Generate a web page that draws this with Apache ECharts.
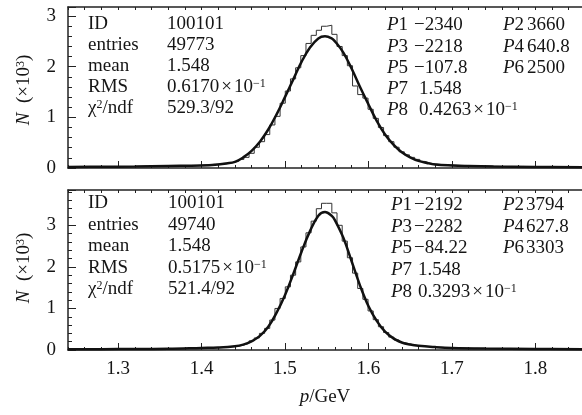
<!DOCTYPE html>
<html><head><meta charset="utf-8">
<script src="https://cdn.jsdelivr.net/npm/echarts@6/dist/echarts.min.js"></script>
<style>html,body{margin:0;padding:0;background:#fff}#c{width:582px;height:415px}</style>
</head><body><div id="c"></div>
<script>
// ---------- data ----------
const binStart = 1.24;
const binWidth = 0.0062;
const xMin = 1.24, xMax = 1.856;
const xTickValues = [1.3, 1.4, 1.5, 1.6, 1.7, 1.8];
const yMaxTop = 3.18, yMaxBot = 3.85;

// top panel histogram (N in units of 10^3), 100 bins
const histTop = [
 0.02,0.02,0.02,0.025,0.02,0.025,0.025,0.02,0.03,0.025,
 0.03,0.025,0.03,0.03,0.035,0.03,0.035,0.04,0.035,0.04,
 0.04,0.045,0.04,0.05,0.05,0.055,0.06,0.07,0.075,0.09,
 0.10,0.11,0.13,0.17,0.21,0.29,0.41,0.52,0.66,0.85,
 1.02,1.28,1.52,1.76,1.98,2.22,2.46,2.62,2.72,2.80,
 2.82,2.64,2.40,2.22,2.02,1.62,1.45,1.38,1.16,0.98,
 0.80,0.64,0.52,0.41,0.32,0.26,0.21,0.17,0.13,0.10,
 0.08,0.07,0.065,0.06,0.055,0.05,0.05,0.045,0.04,0.04,
 0.04,0.035,0.035,0.03,0.03,0.03,0.025,0.03,0.025,0.025,
 0.025,0.02,0.025,0.02,0.02,0.02,0.02,0.015,0.02,0.015
];
// top panel fit curve
const fitTopX = [1.24,1.28,1.32,1.36,1.40,1.42,1.43,1.44,1.45,1.46,1.47,1.48,1.49,1.50,1.51,1.52,1.53,1.54,1.548,1.556,1.56,1.57,1.58,1.59,1.60,1.61,1.62,1.63,1.64,1.65,1.66,1.67,1.68,1.70,1.72,1.75,1.80,1.856];
const fitTopY = [0.02,0.025,0.03,0.04,0.05,0.07,0.09,0.12,0.21,0.34,0.52,0.76,1.06,1.40,1.75,2.10,2.38,2.56,2.60,2.56,2.50,2.28,1.96,1.60,1.26,0.93,0.66,0.46,0.31,0.21,0.14,0.10,0.07,0.05,0.04,0.03,0.02,0.015];

// bottom panel histogram
const histBot = [
 0.015,0.02,0.015,0.02,0.02,0.02,0.015,0.02,0.02,0.02,
 0.02,0.025,0.02,0.025,0.025,0.025,0.03,0.025,0.03,0.03,
 0.035,0.03,0.035,0.04,0.04,0.045,0.05,0.05,0.055,0.06,
 0.07,0.08,0.09,0.12,0.16,0.22,0.29,0.40,0.52,0.72,
 1.00,1.24,1.52,1.80,2.12,2.48,2.82,3.10,3.40,3.53,
 3.53,3.30,3.00,2.62,2.22,1.85,1.48,1.22,0.94,0.73,
 0.56,0.42,0.31,0.24,0.18,0.15,0.12,0.10,0.09,0.08,
 0.07,0.065,0.06,0.055,0.05,0.05,0.045,0.04,0.04,0.035,
 0.035,0.03,0.03,0.03,0.025,0.03,0.025,0.025,0.025,0.02,
 0.02,0.025,0.02,0.02,0.02,0.015,0.02,0.02,0.015,0.015
];
const fitBotX = [1.24,1.28,1.32,1.36,1.40,1.42,1.44,1.45,1.46,1.47,1.48,1.49,1.50,1.51,1.52,1.53,1.54,1.548,1.556,1.56,1.57,1.58,1.59,1.60,1.61,1.62,1.63,1.64,1.65,1.66,1.68,1.70,1.74,1.80,1.856];
const fitBotY = [0.02,0.02,0.025,0.03,0.05,0.06,0.09,0.13,0.21,0.34,0.56,0.90,1.32,1.83,2.37,2.86,3.23,3.32,3.23,3.12,2.70,2.13,1.55,1.06,0.70,0.44,0.28,0.18,0.13,0.10,0.07,0.05,0.035,0.025,0.02];

// stats boxes text
const statsLabels = ['ID', 'entries', 'mean', 'RMS', 'chi'];
const statsTop = ['100101', '49773', '1.548', ['0.6170', '−1'], '529.3/92'];
const statsBot = ['100101', '49740', '1.548', ['0.5175', '−1'], '521.4/92'];
const parsTop = [['−2340', '3660'], ['−2218', '640.8'], ['−107.8', '2500'], ['1.548'], [['0.4263', '−1']]];
const parsBot = [['−2192', '3794'], ['−2282', '627.8'], ['−84.22', '3303'], ['1.548'], [['0.3293', '−1']]];

// ---------- chart ----------
const F = '"Liberation Serif","Times New Roman",serif';
const FS = 19;
const INK = '#151515';
function rs(size, italic, extra) {
  return Object.assign({fontSize: size, fontFamily: F, fontStyle: italic ? 'italic' : 'normal', fill: INK, color: INK}, extra || {});
}
const rich = {
  n: rs(FS), i: rs(FS, true),
  s: rs(12, false, {verticalAlign: 'top'}),
  x: rs(FS, false, {padding: [0, 2, 0, 2]})
};
function txt(x, y, text, extra) {
  return Object.assign({
    type: 'text', x: x, y: y, silent: true,
    style: {text: text, rich: rich, fontSize: FS, fontFamily: F, fill: INK, align: 'left', verticalAlign: 'middle'}
  }, extra || {});
}
function sci(v) { return '{n|' + v[0] + '}{x|×}{n|10}{s|' + v[1] + '}'; }
function val(v) { return Array.isArray(v) ? sci(v) : '{n|' + v + '}'; }
function labelText(l) { return l === 'chi' ? '{n|χ}{s|2}{n|/ndf}' : '{n|' + l + '}'; }

const graphics = [];
function statsBox(vals, lx, vx, ys) {
  statsLabels.forEach((l, k) => {
    graphics.push(txt(lx, ys[k], labelText(l)));
    graphics.push(txt(vx, ys[k], val(vals[k])));
  });
}
function parsBox(pars, px, vx, vx2, p2x, v2x, ys) {
  let n = 1;
  pars.forEach((row, k) => {
    if (row.length === 2) {
      graphics.push(txt(px, ys[k], '{i|P}{n|' + n + '}'));
      graphics.push(txt(vx, ys[k], val(row[0])));
      graphics.push(txt(p2x, ys[k], '{i|P}{n|' + (n + 1) + '}'));
      graphics.push(txt(v2x, ys[k], val(row[1])));
      n += 2;
    } else {
      graphics.push(txt(px, ys[k], '{i|P}{n|' + n + '}'));
      graphics.push(txt(vx2, ys[k], val(row[0])));
      n += 1;
    }
  });
}
statsBox(statsTop, 88, 167, [24, 45, 66, 87, 108]);
statsBox(statsBot, 88, 168, [203, 225, 246, 268, 289]);
parsBox(parsTop, 387, 414, 419, 503, 527, [25, 47, 68, 89, 110]);
parsBox(parsBot, 391, 414, 418, 503, 526, [205, 227, 248, 270, 292]);
// axis titles
const yTitle = '{i|N}{n|  (×10}{s|3}{n|)}';
graphics.push(txt(24, 90, yTitle, {rotation: Math.PI / 2, style: {text: yTitle, rich: rich, fontSize: FS, fontFamily: F, fill: INK, align: 'center', verticalAlign: 'middle'}}));
graphics.push(txt(24, 268, yTitle, {rotation: Math.PI / 2, style: {text: yTitle, rich: rich, fontSize: FS, fontFamily: F, fill: INK, align: 'center', verticalAlign: 'middle'}}));
graphics.push(txt(325, 397, '{i|p}{n|/GeV}', {style: {text: '{i|p}{n|/GeV}', rich: rich, fontSize: FS, fontFamily: F, fill: INK, align: 'center', verticalAlign: 'middle'}}));

function histPoints(h) {
  const pts = [];
  h.forEach((v, i) => {
    pts.push([binStart + i * binWidth, v]);
    pts.push([binStart + (i + 1) * binWidth, v]);
  });
  return pts;
}
function zip(xs, ys) { return xs.map((x, i) => [x, ys[i]]); }

const lineC = '#222';
function xAxesFor(gi, showLabels) {
  return [
    {gridIndex: gi, type: 'value', min: xMin, max: xMax, position: 'bottom',
      axisLine: {show: true, onZero: false, lineStyle: {color: lineC, width: 1.5}},
      axisTick: {show: true, inside: true, length: 7, customValues: xTickValues, lineStyle: {color: lineC}},
      axisLabel: {show: showLabels, customValues: xTickValues, fontSize: FS, fontFamily: F, color: INK, margin: 10,
        formatter: v => v.toFixed(1)},
      splitLine: {show: false}},
    {gridIndex: gi, type: 'value', min: xMin, max: xMax, interval: 0.02, position: 'bottom',
      axisLine: {show: false}, axisTick: {show: true, inside: true, length: 3, lineStyle: {color: lineC}},
      axisLabel: {show: false}, splitLine: {show: false}},
    {gridIndex: gi, type: 'value', min: xMin, max: xMax, interval: 0.02, position: 'top',
      axisLine: {show: true, onZero: false, lineStyle: {color: lineC, width: 1.5}},
      axisTick: {show: true, inside: true, length: 3, lineStyle: {color: lineC}},
      axisLabel: {show: false}, splitLine: {show: false}}
  ];
}
function yAxisFor(gi, max) {
  return {gridIndex: gi, type: 'value', min: 0, max: max, interval: 1,
    axisLine: {show: true, onZero: false, lineStyle: {color: lineC, width: 1.5}},
    axisTick: {show: true, inside: true, length: 8, lineStyle: {color: lineC}},
    minorTick: {show: true, splitNumber: 5, length: 4, lineStyle: {color: lineC}},
    axisLabel: {fontSize: FS, fontFamily: F, color: INK, margin: 12, showMaxLabel: false},
    splitLine: {show: false}, minorSplitLine: {show: false}};
}

const option = {
  animation: false,
  backgroundColor: '#fff',
  grid: [
    {left: 68, right: 0, top: 7, height: 161},
    {left: 68, right: 0, top: 190, height: 160}
  ],
  xAxis: [].concat(xAxesFor(0, false), xAxesFor(1, true)),
  yAxis: [yAxisFor(0, yMaxTop), yAxisFor(1, yMaxBot)],
  series: [
    {type: 'line', xAxisIndex: 0, yAxisIndex: 0, data: histPoints(histTop), symbol: 'none',
      lineStyle: {color: '#333', width: 1}, z: 2},
    {type: 'line', xAxisIndex: 0, yAxisIndex: 0, data: zip(fitTopX, fitTopY), symbol: 'none', smooth: 0.4,
      lineStyle: {color: '#111', width: 2.5}, z: 3},
    {type: 'line', xAxisIndex: 3, yAxisIndex: 1, data: histPoints(histBot), symbol: 'none',
      lineStyle: {color: '#333', width: 1}, z: 2},
    {type: 'line', xAxisIndex: 3, yAxisIndex: 1, data: zip(fitBotX, fitBotY), symbol: 'none', smooth: 0.4,
      lineStyle: {color: '#111', width: 2.5}, z: 3}
  ],
  graphic: graphics
};
const chart = echarts.init(document.getElementById('c'), null, {renderer: 'canvas'});
chart.setOption(option);
</script>
</body></html>
